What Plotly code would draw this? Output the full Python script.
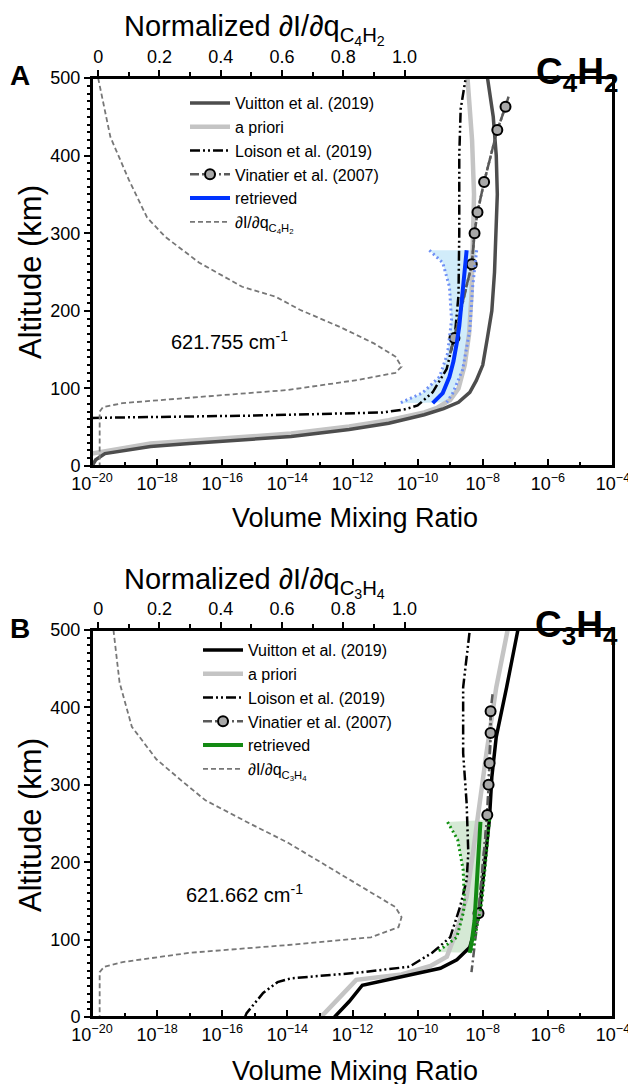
import plotly.graph_objects as go

# ---------------- data (altitude in km, volume mixing ratio) ----------------
# Panel A: C4H2
a_vuitton_alt = [0, 8, 16, 25, 29, 33, 38, 47, 55, 66, 74, 82, 95, 110, 130, 166, 200, 250, 300, 350, 400, 450, 500]
a_vuitton_vmr = [1e-20, 1.3e-20, 2.5e-20, 6.3e-19, 1e-17, 3.2e-16, 1.3e-14, 7.9e-13, 1.3e-11, 1.6e-10,
                 6.3e-10, 1.8e-9, 4e-9, 6.3e-9, 1e-8, 1.4e-8, 1.9e-8, 2.3e-8, 2.6e-8, 2.8e-8, 2.6e-8, 2.1e-8, 1.4e-8]
a_prior_alt = [16, 29, 37, 42, 51, 59, 69, 75, 85, 100, 130, 170, 220, 280, 350, 420, 500]
a_prior_vmr = [1e-20, 6.3e-19, 3.2e-16, 1.3e-14, 7.9e-13, 1.3e-11, 1.6e-10, 4e-10, 1e-9, 1.8e-9,
               2.8e-9, 3.8e-9, 4.5e-9, 5e-9, 5.4e-9, 4.7e-9, 3.4e-9]
a_loison_alt = [62, 65, 69, 73, 78, 95, 125, 170, 220, 300, 400, 460, 500]
a_loison_vmr = [1e-20, 1e-15, 8.5e-12, 4e-11, 1e-10, 2.9e-10, 7.8e-10, 1.4e-9, 1.8e-9, 1.9e-9, 1.9e-9, 2.1e-9, 3e-9]
a_vinatier_alt = [476, 463, 433, 366, 327, 300, 260, 165, 145]
a_vinatier_vmr = [6.2e-8, 5e-8, 2.8e-8, 1.1e-8, 6.9e-9, 5.6e-9, 4.6e-9, 1.35e-9, 1e-9]
a_retr_alt = [278, 250, 210, 180, 159, 135, 115, 100, 94, 81]
a_retr_vmr = [3.2e-9, 2.8e-9, 2.2e-9, 1.9e-9, 1.6e-9, 1.26e-9, 9.5e-10, 7.1e-10, 5.9e-10, 2.9e-10]
a_lo_alt = [278, 262, 231, 188, 145, 115, 94, 81]
a_lo_vmr = [2.3e-10, 5.9e-10, 9.5e-10, 1.1e-9, 8.3e-10, 4.7e-10, 1.4e-10, 2.8e-11]
a_hi_alt = [278, 231, 175, 124, 94, 82]
a_hi_vmr = [6.5e-9, 4.9e-9, 4e-9, 2.4e-9, 1.2e-9, 7.8e-10]
a_sens_alt = [500, 480, 424, 369, 320, 295, 262, 231, 218, 201, 179, 158, 141, 128, 120, 111, 98, 88, 81, 76, 70, 0]
a_sens_val = [0.0, 0.01, 0.04, 0.10, 0.16, 0.22, 0.33, 0.47, 0.58, 0.66, 0.79, 0.90, 0.97, 0.99, 0.97, 0.85,
              0.62, 0.30, 0.08, 0.016, 0.005, 0.005]

# Panel B: C3H4
b_vuitton_alt = [0, 20, 41, 49, 63, 74, 90, 134, 200, 255, 310, 362, 426, 500]
b_vuitton_vmr = [2.8e-13, 7.9e-13, 2e-12, 1.4e-11, 5e-10, 1.6e-9, 4e-9, 7.9e-9, 1.2e-8, 1.6e-8, 1.9e-8,
                 2.6e-8, 5.4e-8, 1.2e-7]
b_prior_alt = [0, 5, 48, 55, 66, 78, 112, 155, 212, 276, 341, 426, 500]
b_prior_vmr = [1e-13, 1.4e-13, 1.3e-12, 3.2e-11, 2.5e-10, 7.9e-10, 1.6e-9, 3.2e-9, 5e-9, 7.9e-9, 1.3e-8,
               2.6e-8, 5.8e-8]
b_loison_alt = [0, 5, 31, 45, 50, 57, 65, 83, 103, 142, 177, 212, 276, 341, 426, 500]
b_loison_vmr = [5e-16, 5.6e-16, 1.8e-15, 5e-15, 1.3e-14, 1.3e-12, 5.6e-11, 2.8e-10, 1e-9, 2e-9, 3.2e-9,
                3.6e-9, 3.2e-9, 2.5e-9, 2.5e-9, 4e-9]
b_vinatier_alt = [417, 395, 367, 328, 300, 261, 134, 58]
b_vinatier_vmr = [2e-8, 1.74e-8, 1.74e-8, 1.62e-8, 1.51e-8, 1.38e-8, 7.4e-9, 4.5e-9]
b_retr_alt = [252, 190, 134, 125, 100, 83]
b_retr_vmr = [8.5e-9, 6.9e-9, 6e-9, 5.6e-9, 4.7e-9, 4e-9]
b_lo_alt = [252, 229, 190, 147, 134, 103, 84]
b_lo_vmr = [8.3e-10, 1.7e-9, 2.5e-9, 2.75e-9, 2.5e-9, 1.6e-9, 4e-10]
b_hi_alt = [255, 212, 147, 112, 90, 83]
b_hi_vmr = [1.62e-8, 1.32e-8, 9.3e-9, 6.3e-9, 5e-9, 4e-9]
b_sens_alt = [500, 432, 375, 333, 306, 280, 251, 225, 199, 173, 142, 129, 116, 103, 93, 83, 71, 65, 58, 0]
b_sens_val = [0.05, 0.07, 0.11, 0.19, 0.27, 0.35, 0.49, 0.62, 0.73, 0.84, 0.97, 0.99, 0.98, 0.89, 0.62,
              0.30, 0.08, 0.02, 0.005, 0.005]

vmr_ticks = [10.0 ** e for e in range(-20, -3, 2)]
vmr_ticktext = ["10<sup>\u2212%d</sup>" % -e for e in range(-20, -3, 2)]
vmr_minor = [10.0 ** e for e in range(-19, -4, 2)]
norm_ticks = [0, 0.2, 0.4, 0.6, 0.8, 1.0]
norm_ticktext = ["0", "0.2", "0.4", "0.6", "0.8", "1.0"]

# ---------------- layout helpers (positions given in page pixels) ----------------
W, H = 636, 1084
OFF = 8                      # page body margin around the figure
PL, PR = 92, 613             # plot area left/right on the page
ML, MR = PL - OFF, W - (PR - OFF)
FONT = "Liberation Sans, Arial, Helvetica, sans-serif"


def px(x):
    return (x - OFF - ML) / (W - ML - MR)


def py(y):
    return 1 - (y - OFF) / H


fig = go.Figure()

LOISON_DASH = "10px,3px,2px,3px,2px,3px"
VIN_DASH = "9px,3px,2px,3px"
SENS_DASH = "5px,3px"


def add_panel(xa, xt, ya, leg, d, colors):
    (vu_alt, vu_vmr, pr_alt, pr_vmr, lo_alt, lo_vmr, vi_alt, vi_vmr, re_alt, re_vmr,
     el_alt, el_vmr, eh_alt, eh_vmr, se_alt, se_val, sens_name) = d
    vu_col, re_col, env_fill, env_dot = colors
    # error envelope fill
    fig.add_trace(go.Scatter(x=el_vmr + eh_vmr[::-1], y=el_alt + eh_alt[::-1], xaxis=xa, yaxis=ya,
                             fill="toself", fillcolor=env_fill, mode="none", showlegend=False,
                             hoverinfo="skip"))
    fig.add_trace(go.Scatter(x=pr_vmr, y=pr_alt, xaxis=xa, yaxis=ya, mode="lines", name="a priori",
                             line=dict(color="#c4c4c4", width=4.5), legend=leg, legendrank=2))
    fig.add_trace(go.Scatter(x=vu_vmr, y=vu_alt, xaxis=xa, yaxis=ya, mode="lines",
                             name="Vuitton et al. (2019)", line=dict(color=vu_col, width=3.5),
                             legend=leg, legendrank=1))
    fig.add_trace(go.Scatter(x=lo_vmr, y=lo_alt, xaxis=xa, yaxis=ya, mode="lines",
                             name="Loison et al. (2019)",
                             line=dict(color="black", width=2.5, dash=LOISON_DASH),
                             legend=leg, legendrank=3))
    # Vinatier: full line plus markers on measured points
    fig.add_trace(go.Scatter(x=vi_vmr, y=vi_alt, xaxis=xa, yaxis=ya, mode="lines", showlegend=False,
                             line=dict(color="#5a5a5a", width=2.5, dash=VIN_DASH), hoverinfo="skip"))
    fig.add_trace(go.Scatter(x=vi_vmr[1:-1], y=vi_alt[1:-1], xaxis=xa, yaxis=ya, mode="lines+markers",
                             name="Vinatier et al. (2007)",
                             line=dict(color="#5a5a5a", width=2.5, dash=VIN_DASH),
                             marker=dict(size=10, color="#a8a8a8", line=dict(color="black", width=2)),
                             legend=leg, legendrank=4))
    fig.add_trace(go.Scatter(x=el_vmr, y=el_alt, xaxis=xa, yaxis=ya, mode="lines", showlegend=False,
                             line=dict(color=env_dot, width=3, dash="2px,3px"), hoverinfo="skip"))
    fig.add_trace(go.Scatter(x=eh_vmr, y=eh_alt, xaxis=xa, yaxis=ya, mode="lines", showlegend=False,
                             line=dict(color=env_dot, width=3, dash="2px,3px"), hoverinfo="skip"))
    fig.add_trace(go.Scatter(x=re_vmr, y=re_alt, xaxis=xa, yaxis=ya, mode="lines", name="retrieved",
                             line=dict(color=re_col, width=4), legend=leg, legendrank=5))
    fig.add_trace(go.Scatter(x=se_val, y=se_alt, xaxis=xt, yaxis=ya, mode="lines", name=sens_name,
                             line=dict(color="#777777", width=1.8, dash=SENS_DASH),
                             legend=leg, legendrank=6))


add_panel("x", "x2", "y", "legend",
          (a_vuitton_alt, a_vuitton_vmr, a_prior_alt, a_prior_vmr, a_loison_alt, a_loison_vmr,
           a_vinatier_alt, a_vinatier_vmr, a_retr_alt, a_retr_vmr, a_lo_alt, a_lo_vmr,
           a_hi_alt, a_hi_vmr, a_sens_alt, a_sens_val,
           "\u2202I/\u2202q<sub>C<sub>4</sub>H<sub>2</sub></sub>"),
          ("#4d4d4d", "#0033ff", "rgba(190,228,248,0.7)", "#6e8ff5"))
add_panel("x3", "x4", "y2", "legend2",
          (b_vuitton_alt, b_vuitton_vmr, b_prior_alt, b_prior_vmr, b_loison_alt, b_loison_vmr,
           b_vinatier_alt, b_vinatier_vmr, b_retr_alt, b_retr_vmr, b_lo_alt, b_lo_vmr,
           b_hi_alt, b_hi_vmr, b_sens_alt, b_sens_val,
           "\u2202I/\u2202q<sub>C<sub>3</sub>H<sub>4</sub></sub>"),
          ("#000000", "#138a13", "rgba(150,200,150,0.4)", "#0f8f0f"))

tickfont = dict(family=FONT, size=18, color="black")
dom_a = [py(466), py(78)]
dom_b = [py(1017), py(630)]


def log_axis(anchor):
    return dict(type="log", range=[-20, -4], anchor=anchor, domain=[0, 1], automargin=False,
                tickvals=vmr_ticks, ticktext=vmr_ticktext, ticks="inside", ticklen=7, tickwidth=2,
                tickcolor="black", showline=True, linecolor="black", linewidth=2, showgrid=False,
                zeroline=False, tickfont=tickfont,
                minor=dict(tickvals=vmr_minor, ticks="inside", ticklen=4, tickwidth=2, tickcolor="black"))


def top_axis(anchor, overl):
    return dict(range=[-0.02, 1.68], anchor=anchor, overlaying=overl, side="top", automargin=False,
                tickvals=norm_ticks, ticktext=norm_ticktext, ticks="outside", ticklen=6, tickwidth=2,
                tickcolor="black", showline=True, linecolor="black", linewidth=2, showgrid=False,
                zeroline=False, tickfont=tickfont,
                minor=dict(tickvals=[0.1, 0.3, 0.5, 0.7, 0.9], ticks="outside", ticklen=4, tickwidth=2,
                           tickcolor="black"))


def y_axis(domain):
    return dict(range=[0, 500], domain=domain, dtick=100, ticks="outside", ticklen=6, tickwidth=2,
                tickcolor="black", showline=True, linecolor="black", linewidth=2, mirror=True,
                showgrid=False, zeroline=False, tickfont=tickfont, automargin=False,
                minor=dict(dtick=10, ticks="outside", ticklen=3, tickwidth=2, tickcolor="black"))


legend_common = dict(font=dict(family=FONT, size=16, color="black"), bgcolor="rgba(0,0,0,0)",
                     xanchor="left", yanchor="top", tracegroupgap=0, itemwidth=40,
                     traceorder="normal")

# plot frames (decoration only)
frames = [dict(type="rect", xref=xr + " domain", yref=yr + " domain", x0=0, x1=1, y0=0, y1=1,
               line=dict(color="black", width=2), layer="above")
          for xr, yr in (("x", "y"), ("x3", "y2"))]

fig.update_layout(
    width=W, height=H, margin=dict(l=ML, r=MR, t=0, b=0, autoexpand=False),
    plot_bgcolor="white", paper_bgcolor="white",
    font=dict(family=FONT, color="black"),
    xaxis=log_axis("y"), xaxis2=top_axis("y", "x"),
    xaxis3=log_axis("y2"), xaxis4=top_axis("y2", "x3"),
    yaxis=y_axis(dom_a), yaxis2=y_axis(dom_b),
    legend=dict(x=px(185), y=py(86), **legend_common),
    legend2=dict(x=px(198), y=py(633), **legend_common),
    shapes=frames,
)

ann = []
for (dy, species, letter, wn, wnx) in [
    (0, "C<sub>4</sub>H<sub>2</sub>", "A", "621.755", 229),
    (553, "C<sub>3</sub>H<sub>4</sub>", "B", "621.662", 244),
]:
    ann.append(dict(x=px(254), y=py(dy + 29), text="Normalized \u2202I/\u2202q<sub>" + species + "</sub>",
                    font=dict(size=29)))
    ann.append(dict(x=px(620), y=py(dy + 74), text="<b>" + species + "</b>", xanchor="right",
                    font=dict(size=37)))
    ann.append(dict(x=px(8), y=py(dy + 75), text="<b>" + letter + "</b>", xanchor="left",
                    font=dict(size=28)))
    ann.append(dict(x=px(355), y=py(dy + 518), text="Volume Mixing Ratio", font=dict(size=27)))
    ann.append(dict(x=px(30), y=py(dy + 272), text="Altitude (km)", textangle=-90, font=dict(size=31)))
    ann.append(dict(x=px(wnx), y=py(dy + 340), text=wn + " cm<sup>-1</sup>", font=dict(size=20)))

for a in ann:
    a.update(xref="paper", yref="paper", showarrow=False, yanchor="middle")
    a.setdefault("xanchor", "center")
    a["font"] = dict(family=FONT, color="black", size=a["font"]["size"])
fig.update_layout(annotations=ann)

fig.write_html("out.html")
